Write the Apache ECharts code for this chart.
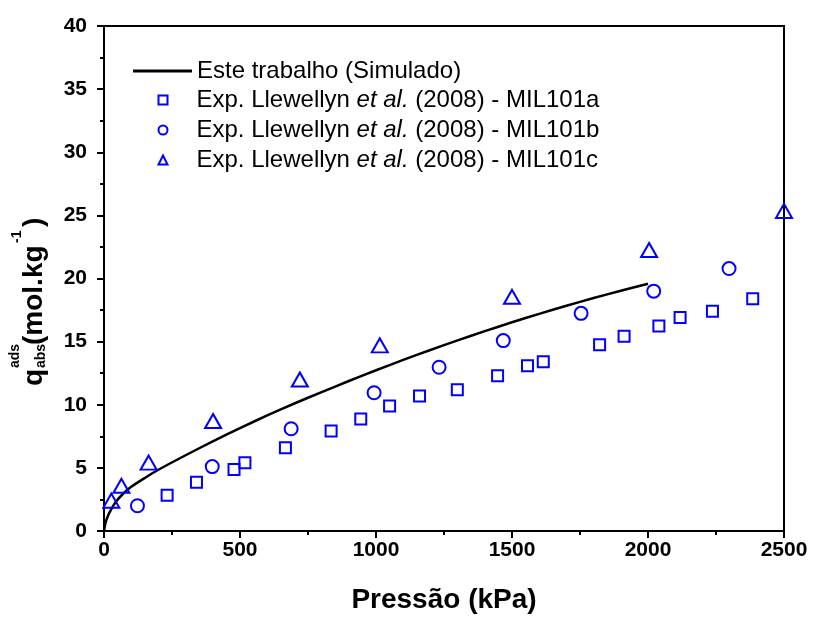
<!DOCTYPE html>
<html>
<head>
<meta charset="utf-8">
<script src="https://cdn.jsdelivr.net/npm/echarts@6/dist/echarts.min.js"></script>
<style>html,body{margin:0;padding:0;background:#fff;}#c{width:813px;height:619px;}</style>
</head>
<body>
<div id="c"></div>
<script>
// Simulated curve (Este trabalho)
var simP = [0, 5, 10, 20, 40, 70, 100, 150, 200, 300, 400, 500, 600, 700, 800, 900, 1000, 1100, 1200, 1300, 1400, 1500, 1600, 1700, 1800, 1900, 2000];
var simQ = [0, 0.6, 0.95, 1.45, 2.2, 2.95, 3.5, 4.2, 4.85, 6.0, 7.1, 8.15, 9.15, 10.1, 11.0, 11.88, 12.73, 13.55, 14.34, 15.1, 15.83, 16.53, 17.2, 17.84, 18.45, 19.03, 19.58];
// MIL101a (squares)
var aP = [232, 340, 478, 518, 667, 835, 944, 1050, 1160, 1299, 1447, 1557, 1615, 1822, 1912, 2040, 2118, 2237, 2385];
var aQ = [2.84, 3.87, 4.87, 5.4, 6.6, 7.92, 8.87, 9.9, 10.7, 11.18, 12.29, 13.08, 13.4, 14.76, 15.42, 16.23, 16.92, 17.4, 18.39];
// MIL101b (circles)
var bP = [123, 398, 688, 993, 1232, 1468, 1754, 2021, 2298];
var bQ = [2.0, 5.1, 8.1, 10.95, 12.97, 15.08, 17.24, 19.0, 20.79];
// MIL101c (triangles)
var cP = [27, 64, 164, 401, 720, 1014, 1500, 2004, 2500];
var cQ = [2.4, 3.58, 5.42, 8.71, 12.0, 14.7, 18.55, 22.26, 25.35];

var xTicks = [0, 500, 1000, 1500, 2000, 2500];
var yTicks = [0, 5, 10, 15, 20, 25, 30, 35, 40];

var names = ['Este trabalho (Simulado)', 'Exp. Llewellyn et al. (2008) - MIL101a', 'Exp. Llewellyn et al. (2008) - MIL101b', 'Exp. Llewellyn et al. (2008) - MIL101c'];

function zip(a, b) { return a.map(function (v, i) { return [v, b[i]]; }); }

var FF = '"Liberation Sans", Arial, sans-serif';
var BLUE = '#0000ff';

var chart = echarts.init(document.getElementById('c'), null, {renderer: 'canvas'});

var axisCommon = {
  axisLine: {show: true, lineStyle: {color: '#000', width: 2}},
  axisTick: {show: true, inside: false, length: 7, lineStyle: {color: '#000', width: 2}},
  minorTick: {show: true, splitNumber: 2, length: 4, lineStyle: {color: '#000', width: 2}},
  splitLine: {show: false},
  minorSplitLine: {show: false}
};

function mkScatter(name, p, q, symbol, size) {
  return {
    name: name, type: 'scatter', data: zip(p, q), symbol: symbol, symbolSize: size,
    symbolKeepAspect: true, clip: false, z: 3,
    itemStyle: {color: 'rgba(255,255,255,0)', borderColor: BLUE, borderWidth: 2, opacity: 1},
    emphasis: {disabled: true}
  };
}

var legendText = {
  fontSize: 24, color: '#000', fontFamily: FF, lineHeight: 24,
  rich: {
    g: {width: 24, height: 24},
    n: {fontSize: 24, color: '#000', fontFamily: FF, lineHeight: 24},
    i: {fontSize: 24, color: '#000', fontFamily: FF, fontStyle: 'italic', lineHeight: 24}
  }
};
function legendFmt(name) {
  if (name.indexOf('et al.') >= 0) {
    var parts = name.split('et al.');
    return '{g|}{n|' + parts[0] + '}{i|et al.}{n|' + parts[1] + '}';
  }
  return '{n|' + name + '}';
}

var option = {
  animation: false,
  backgroundColor: '#fff',
  grid: {left: 104, right: 29, top: 26, bottom: 86, show: true, borderColor: '#000', borderWidth: 2, backgroundColor: 'transparent'},
  xAxis: Object.assign({
    type: 'value', min: xTicks[0], max: xTicks[xTicks.length - 1], interval: 500,
    name: 'Pressão (kPa)', nameLocation: 'middle', nameGap: 55,
    nameTextStyle: {fontSize: 28, fontWeight: 'bold', color: '#000', fontFamily: FF},
    axisLabel: {fontSize: 21, fontWeight: 'bold', color: '#000', fontFamily: FF, margin: 9,
      formatter: function (v) { return String(v); }}
  }, axisCommon),
  yAxis: Object.assign({
    type: 'value', min: yTicks[0], max: yTicks[yTicks.length - 1], interval: 5,
    axisLabel: {fontSize: 21, fontWeight: 'bold', color: '#000', fontFamily: FF, margin: 17,
      formatter: function (v) { return String(v); }}
  }, axisCommon),
  legend: [{
    show: true, orient: 'vertical', left: 128, top: 54, itemWidth: 59, itemHeight: 3, itemGap: 6,
    selectedMode: false,
    data: [{name: names[0], icon: 'rect', itemStyle: {color: '#000'}}],
    textStyle: legendText, formatter: legendFmt
  }, {
    show: true, orient: 'vertical', left: 152.5, top: 83, itemWidth: 9, itemHeight: 9, itemGap: 6,
    selectedMode: false,
    data: [
      {name: names[1], icon: 'rect'},
      {name: names[2], icon: 'circle'},
      {name: names[3], icon: 'triangle'}
    ],
    textStyle: legendText, formatter: legendFmt
  }],
  graphic: [{
    type: 'group', x: 34, y: 386, rotation: Math.PI / 2, silent: true,
    children: [
      {type: 'text', x: 0, y: 0, style: {text: 'q', font: 'bold 28px ' + FF, fill: '#000', textAlign: 'left', textVerticalAlign: 'middle'}},
      {type: 'text', x: 18, y: -19, style: {text: 'ads', font: 'bold 14px ' + FF, fill: '#000', textAlign: 'left', textVerticalAlign: 'middle'}},
      {type: 'text', x: 18, y: 7, style: {text: 'abs', font: 'bold 14px ' + FF, fill: '#000', textAlign: 'left', textVerticalAlign: 'middle'}},
      {type: 'text', x: 41, y: 0, style: {text: '(mol.kg', font: 'bold 28px ' + FF, fill: '#000', textAlign: 'left', textVerticalAlign: 'middle'}},
      {type: 'text', x: 143, y: -17, style: {text: '-1', font: 'bold 14px ' + FF, fill: '#000', textAlign: 'left', textVerticalAlign: 'middle'}},
      {type: 'text', x: 159, y: 0, style: {text: ')', font: 'bold 28px ' + FF, fill: '#000', textAlign: 'left', textVerticalAlign: 'middle'}}
    ]
  }],
  series: [
    {
      name: names[0], type: 'line', data: zip(simP, simQ), smooth: 0.25,
      showSymbol: false, symbol: 'none', z: 2,
      lineStyle: {color: '#000', width: 2.5},
      itemStyle: {color: '#000'},
      emphasis: {disabled: true}
    },
    mkScatter(names[1], aP, aQ, 'rect', 11),
    mkScatter(names[2], bP, bQ, 'circle', 13),
    mkScatter(names[3], cP, cQ, 'triangle', [16, 14])
  ]
};
chart.setOption(option);
</script>
</body>
</html>
